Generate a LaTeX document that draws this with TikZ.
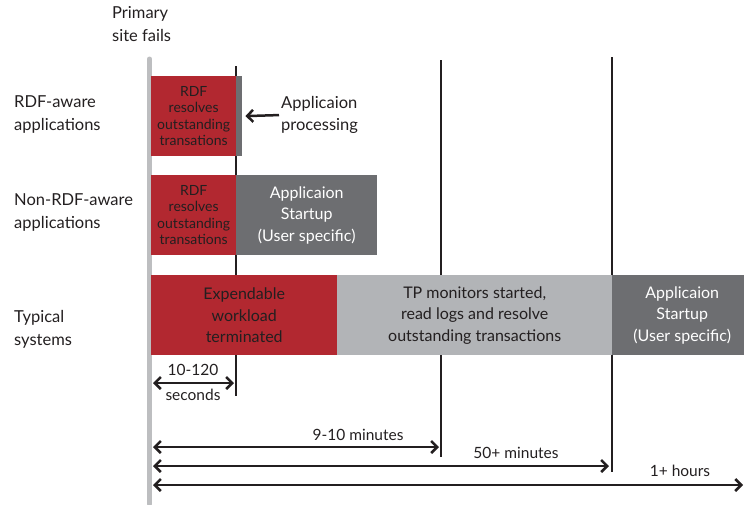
\documentclass[tikz,border=0pt]{standalone}
\usepackage{fontspec}
\setmainfont{Lato}
\usetikzlibrary{arrows.meta}
\definecolor{rdfred}{HTML}{B22830}
\definecolor{dgray}{HTML}{6D6E71}
\definecolor{lgray}{HTML}{B2B4B7}
\definecolor{barc}{HTML}{BDBEC0}
\definecolor{txt}{HTML}{231F20}
\begin{document}
\begin{tikzpicture}[x=1pt,y=-1pt,
  box/.style={draw=none,inner sep=0pt,anchor=north west,align=center,text=txt},
  smallbox/.style={box,font=\fontsize{14}{16.4}\selectfont},
  bigbox/.style={box,font=\fontsize{16}{21.5}\selectfont},
  lbl/.style={align=left,anchor=west,text=txt,inner sep=0pt,font=\fontsize{16.5}{23}\selectfont},
  tline/.style={line width=2pt,draw=txt},
  dimlbl/.style={text=txt,inner sep=0pt,font=\fontsize{15.5}{18}\selectfont},
  tipb/.tip={Straight Barb[length=6pt,width=12pt,line width=2.5pt]},
  dimarrow/.style={line width=2.5pt,draw=txt,tipb-tipb}
]
\useasboundingbox (0,0) rectangle (744,504);
% failure bar
\coordinate (bt) at (149.5,59);
\coordinate (bb) at (149.5,504);
\draw[line width=5pt,barc,line cap=round] (bt) -- (bb);
% time lines
\coordinate (t1a) at (236,66);  \coordinate (t1b) at (236,396);
\coordinate (t2a) at (441,60);  \coordinate (t2b) at (441,457);
\coordinate (t3a) at (612,57);  \coordinate (t3b) at (612,472);
\draw[tline] (t1a) -- (t1b);
\draw[tline] (t2a) -- (t2b);
\draw[tline] (t3a) -- (t3b);
% labels
\node[lbl,anchor=north west] (psf) at (112,6) {Primary\\site fails};
\node[lbl] (l1) at (14,114) {RDF-aware\\applications};
\node[lbl] (l2) at (14,212) {Non-RDF-aware\\applications};
\node[lbl] (l3) at (14,329) {Typical\\systems};
% row 1
\node[smallbox,fill=rdfred,minimum width=85pt,minimum height=80pt] (r1) at (151,76) {RDF\\resolves\\outstanding\\transations};
\node[box,fill=dgray,minimum width=6pt,minimum height=80pt] (p1) at (236,76) {};
\node[lbl,font=\fontsize{16.5}{21.5}\selectfont] (ap) at (281,115) {Applicaion\\processing};
\draw[line width=2.5pt,draw=txt,-tipb,shorten <=2pt,shorten >=3pt] (ap.west) -- (p1.east);
% row 2
\node[smallbox,fill=rdfred,minimum width=85pt,minimum height=80pt] (r2) at (151,175) {RDF\\resolves\\outstanding\\transations};
\node[bigbox,fill=dgray,text=white,minimum width=141pt,minimum height=80pt] (s2) at (236,175) {Applicaion\\Startup\\(User specific)};
% row 3
\node[bigbox,fill=rdfred,minimum width=186pt,minimum height=80pt] (r3) at (151,275) {Expendable\\workload\\terminated};
\node[bigbox,fill=lgray,minimum width=275pt,minimum height=80pt] (g3) at (337,275) {TP monitors started,\\read logs and resolve\\outstanding transactions};
\node[bigbox,fill=dgray,text=white,minimum width=132pt,minimum height=80pt] (s3) at (612,275) {\hspace*{8pt}Applicaion\\\hspace*{8pt}Startup\\\hspace*{8pt}(User specific)};
% dimensions
\coordinate (a0) at (153,383); \coordinate (a1) at (234,383);
\draw[dimarrow] (a0) -- (a1);
\node[dimlbl] (d1a) at (193,370) {10-120};
\node[dimlbl] (d1b) at (193,395) {seconds};
\coordinate (b0) at (153,447); \coordinate (b1) at (439,447);
\draw[dimarrow] (b0) -- (b1);
\node[dimlbl] (d2) at (358,435) {9-10 minutes};
\coordinate (c0) at (153,466); \coordinate (c1) at (609,466);
\draw[dimarrow] (c0) -- (c1);
\node[dimlbl] (d3) at (516,453) {50+ minutes};
\coordinate (e0) at (153,485); \coordinate (e1) at (743,485);
\draw[dimarrow] (e0) -- (e1);
\node[dimlbl] (d4) at (680,471) {1+ hours};
\end{tikzpicture}
\end{document}
